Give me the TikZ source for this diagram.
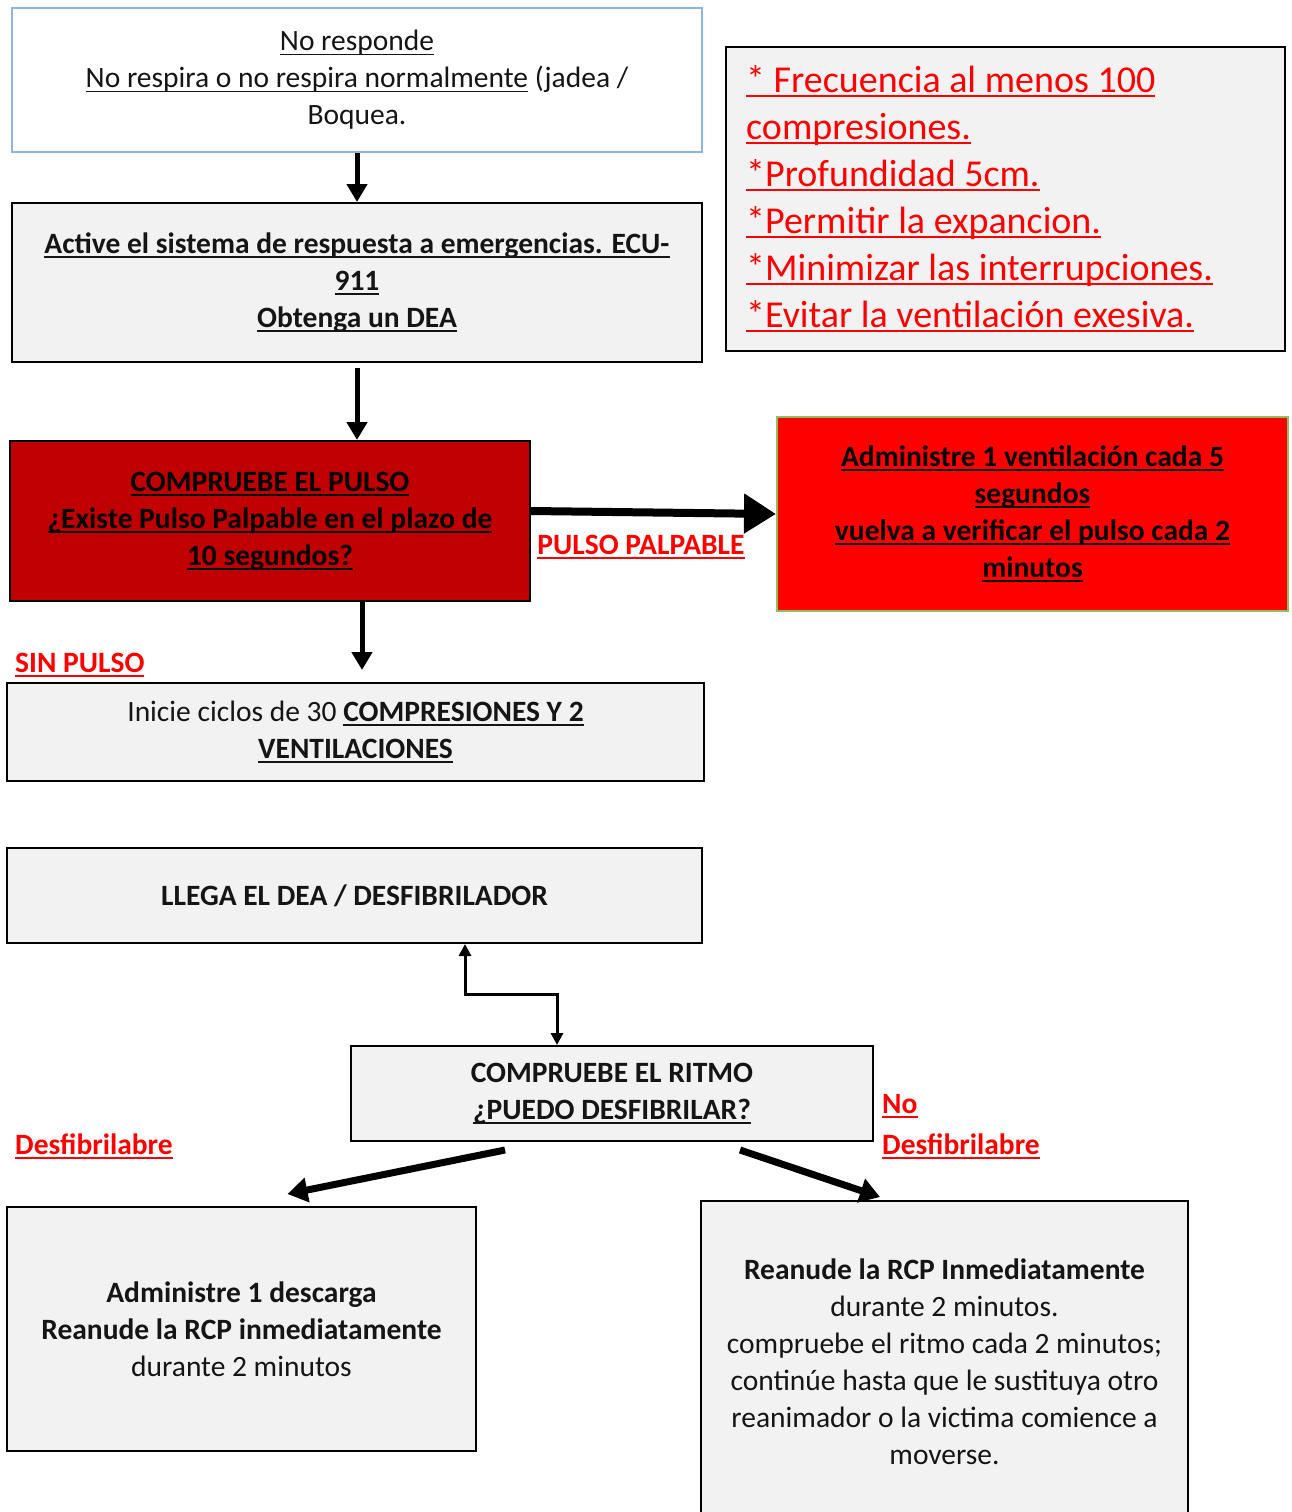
\documentclass[tikz,border=0pt]{standalone}
\usepackage{fontspec}
\setmainfont{Carlito}
\usetikzlibrary{arrows.meta}
\definecolor{boxgray}{HTML}{F2F2F2}
\definecolor{topblue}{HTML}{8EB4E3}
\definecolor{dkred}{HTML}{C00000}
\definecolor{brred}{HTML}{FF0000}
\definecolor{grn}{HTML}{8CC063}
\definecolor{txt}{HTML}{151515}
\newsavebox\ulbox
\newcommand\ulx[1]{\sbox\ulbox{#1}\rlap{\rule[-4.5pt]{\wd\ulbox}{1.8pt}}\usebox\ulbox}
\newcommand\bodyfont{\fontsize{29.5}{37}\selectfont}
\newcommand\notesfont{\fontsize{38}{47}\selectfont}
\tikzset{
  box/.style={draw=black, line width=2pt, fill=boxgray, inner sep=0pt, align=center, font=\bodyfont, text=txt},
  boldbox/.style={box, font=\bodyfont\bfseries},
  lbl/.style={inner sep=0pt, font=\bodyfont\bfseries, text=brred},
  arr/.style={line width=5pt, -{Triangle[length=18pt,width=20pt]}},
  bigarr/.style={line width=8pt, -{Triangle[length=32pt,width=38pt]}},
  diagarr/.style={line width=7pt, -{Triangle[length=20pt,width=24pt]}},
  elbarr/.style={line width=3pt, {Triangle[length=12pt,width=12pt]}-{Triangle[length=12pt,width=12pt]}},
}
\begin{document}
\begin{tikzpicture}[x=1pt,y=-1pt]
\useasboundingbox (0,0) rectangle (1292,1512);
\clip (0,0) rectangle (1292,1512);
\fill[white] (0,0) rectangle (1292,1512);

\node[box, draw=topblue, fill=white, minimum width=690pt, minimum height=144pt] (b1) at (357,80)
  {\ulx{No responde}\\ \ulx{No respira o no respira normalmente} (jadea /\\ Boquea.};

\node[boldbox, minimum width=690pt, minimum height=159pt] (b2) at (357,282.5)
  {\ulx{Active el sistema de respuesta a emergencias. ECU-}\\ \ulx{911}\\ \ulx{Obtenga un DEA}};

\node[boldbox, fill=dkred, text=black, minimum width=520pt, minimum height=160pt] (red) at (270,521)
  {\ulx{COMPRUEBE EL PULSO}\\ \ulx{¿Existe Pulso Palpable en el plazo de}\\ \ulx{10 segundos?}};

\node[boldbox, fill=brred, draw=grn, text=black, minimum width=511pt, minimum height=194pt] (grnb) at (1032.5,514)
  {\ulx{Administre 1 ventilación cada 5}\\ \ulx{segundos}\\ \ulx{vuelva a verificar el pulso cada 2}\\ \ulx{minutos}};

\node[box, minimum width=559pt, minimum height=304pt] (notes) at (1005.5,199) {};
\node[inner sep=0pt, anchor=west, align=left, font=\notesfont, text=brred] (nt) at (746,199)
  {\ulx{* Frecuencia al menos 100}\\ \ulx{compresiones.}\\ \ulx{*Profundidad 5cm.}\\ \ulx{*Permitir la expancion.}\\ \ulx{*Minimizar las interrupciones.}\\ \ulx{*Evitar la ventilación exesiva.}};

\node[box, minimum width=697pt, minimum height=98pt] (b5) at (355.5,732)
  {Inicie ciclos de 30 \textbf{\ulx{COMPRESIONES Y 2}}\\ \textbf{\ulx{VENTILACIONES}}};

\node[boldbox, minimum width=695pt, minimum height=95pt] (b6) at (354.5,895.5)
  {LLEGA EL DEA / DESFIBRILADOR};

\node[boldbox, minimum width=522pt, minimum height=95pt] (b7) at (612,1093.5)
  {COMPRUEBE EL RITMO\\ \ulx{¿PUEDO DESFIBRILAR?}};

\node[box, minimum width=469pt, minimum height=244pt] (b8) at (241.5,1329)
  {\textbf{Administre 1 descarga}\\ \textbf{Reanude la RCP inmediatamente}\\ durante 2 minutos};

\node[box, minimum width=487pt, minimum height=322pt] (b9) at (944.5,1362)
  {\textbf{Reanude la RCP Inmediatamente}\\ durante 2 minutos.\\ compruebe el ritmo cada 2 minutos;\\ continúe hasta que le sustituya otro\\ reanimador o la victima comience a\\ moverse.};

% labels
\node[lbl] (lpp) at (641,547) {\ulx{PULSO PALPABLE}};
\node[lbl, anchor=west] (lsp) at (15,665) {\ulx{SIN PULSO}};
\node[lbl, anchor=west] (lno) at (882,1106) {\ulx{No}};
\node[lbl, anchor=west] (lnd) at (882,1146) {\ulx{Desfibrilabre}};
\node[lbl, anchor=west] (ld) at (15,1146) {\ulx{Desfibrilabre}};

% connectors
\draw[arr] (b1.south) -- (b2.north);
\draw[arr] ([yshift=-5pt]b2.south) -- (b2.south |- red.north);
\draw[bigarr] ([yshift=10pt]red.east) -- (grnb.west);
\draw[arr, shorten >=12pt] ([xshift=92pt]red.south) -- ([xshift=92pt]red.south |- b5.north);
\draw[elbarr] ([xshift=110.5pt]b6.south) -- ++(0,50) -| ([xshift=-55pt]b7.north);
\draw[diagarr] ([xshift=-107pt,yshift=-8pt]b7.south) -- ([xshift=46pt,yshift=12pt]b8.north);
\draw[diagarr] ([xshift=128pt,yshift=-8pt]b7.south) -- ([xshift=-64.5pt,yshift=3pt]b9.north);
\end{tikzpicture}
\end{document}
